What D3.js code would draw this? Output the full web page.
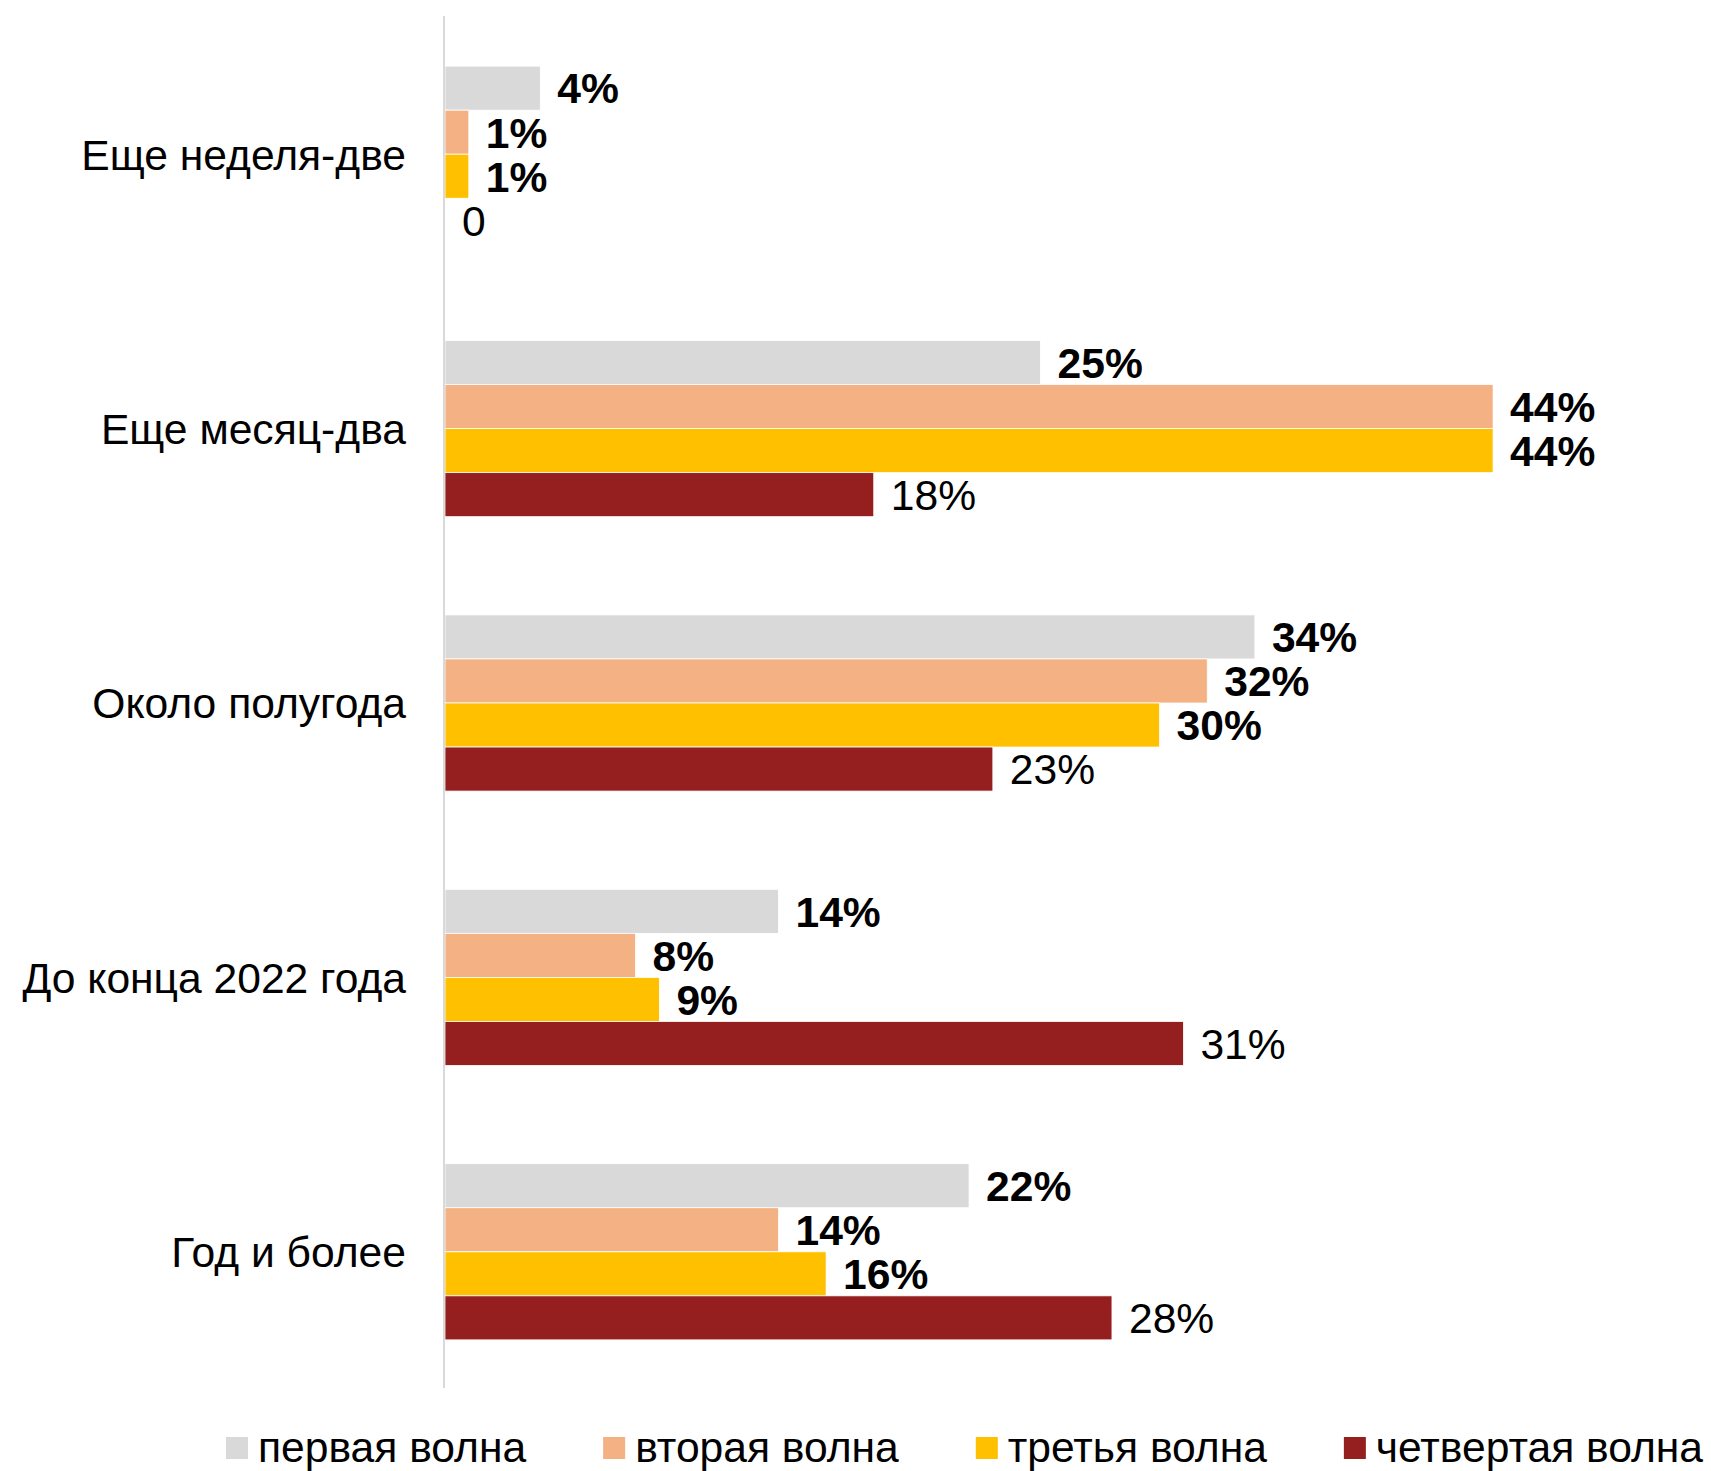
<!DOCTYPE html>
<html>
<head>
<meta charset="utf-8">
<script src="https://cdn.jsdelivr.net/npm/d3@7"></script>
<style>
  html, body { margin: 0; padding: 0; background: #fff; }
  svg { display: block; font-family: "Liberation Sans", Arial, sans-serif; }
</style>
</head>
<body>
<svg id="chart" width="1711" height="1471"></svg>
<script>
// Answer options (rows, top to bottom)
const categories = ["Еще неделя-две", "Еще месяц-два", "Около полугода", "До конца 2022 года", "Год и более"];

// Survey waves
const seriesNames = ["первая волна", "вторая волна", "третья волна", "четвертая волна"];
const seriesColors = ["#d9d9d9", "#f4b183", "#ffc000", "#951f1f"];

// Shares of respondents, % (one array per wave, in the order of categories)
const wave1 = [4, 25, 34, 14, 22];
const wave2 = [1, 44, 32, 8, 14];
const wave3 = [1, 44, 30, 9, 16];
const wave4 = [0, 18, 23, 31, 28];

// Value labels as printed next to the bars
const labels1 = ["4%", "25%", "34%", "14%", "22%"];
const labels2 = ["1%", "44%", "32%", "8%", "14%"];
const labels3 = ["1%", "44%", "30%", "9%", "16%"];
const labels4 = ["0", "18%", "23%", "31%", "28%"];

const seriesValues = [wave1, wave2, wave3, wave4];
const seriesLabels = [labels1, labels2, labels3, labels4];

const svg = d3.select("#chart");
const FONT = 42.6;

const x = d3.scaleLinear().domain([0, 50]).range([445, 1636]);

const y = d3.scaleBand()
  .domain(categories)
  .range([17, 1389])
  .paddingInner(0.358)
  .paddingOuter(0.179);

const ySub = d3.scaleBand()
  .domain(d3.range(seriesNames.length))
  .range([0, y.bandwidth()])
  .padding(0);

// Rows of data: one entry per bar
const rows = [];
categories.forEach((c, i) => {
  seriesNames.forEach((s, j) => {
    rows.push({ cat: c, s: j, v: seriesValues[j][i], label: seriesLabels[j][i] });
  });
});

// Bars
svg.append("g").selectAll("rect")
  .data(rows)
  .join("rect")
  .attr("x", x(0))
  .attr("y", d => y(d.cat) + ySub(d.s))
  .attr("width", d => x(d.v) - x(0))
  .attr("height", ySub.bandwidth())
  .attr("fill", d => seriesColors[d.s])
  .attr("stroke", "#ffffff")
  .attr("stroke-width", 0.8);

// Vertical category axis line
svg.append("line")
  .attr("x1", 444).attr("x2", 444)
  .attr("y1", 16).attr("y2", 1388)
  .attr("stroke", "#d9d9d9")
  .attr("stroke-width", 2);

// Value labels
svg.append("g").selectAll("text")
  .data(rows)
  .join("text")
  .attr("x", d => x(d.v) + 17)
  .attr("y", d => y(d.cat) + ySub(d.s) + ySub.bandwidth() / 2)
  .attr("dy", "0.36em")
  .attr("font-size", FONT)
  .attr("font-weight", d => d.s < 3 ? "bold" : "normal")
  .attr("fill", "#000")
  .text(d => d.label);

// Category labels
svg.append("g").selectAll("text")
  .data(categories)
  .join("text")
  .attr("x", 406)
  .attr("y", d => y(d) + y.bandwidth() / 2)
  .attr("dy", "0.36em")
  .attr("text-anchor", "end")
  .attr("font-size", FONT)
  .attr("fill", "#000")
  .text(d => d);

// Legend
const legend = svg.append("g").attr("transform", "translate(0,1447)");
let lx = 226;
seriesNames.forEach((name, j) => {
  legend.append("rect")
    .attr("x", lx).attr("y", -10)
    .attr("width", 22).attr("height", 22)
    .attr("fill", seriesColors[j]);
  const t = legend.append("text")
    .attr("x", lx + 32)
    .attr("y", 0)
    .attr("dy", "0.36em")
    .attr("font-size", FONT)
    .attr("fill", "#000")
    .text(name);
  lx += 32 + t.node().getComputedTextLength() + 77;
});
</script>
</body>
</html>
